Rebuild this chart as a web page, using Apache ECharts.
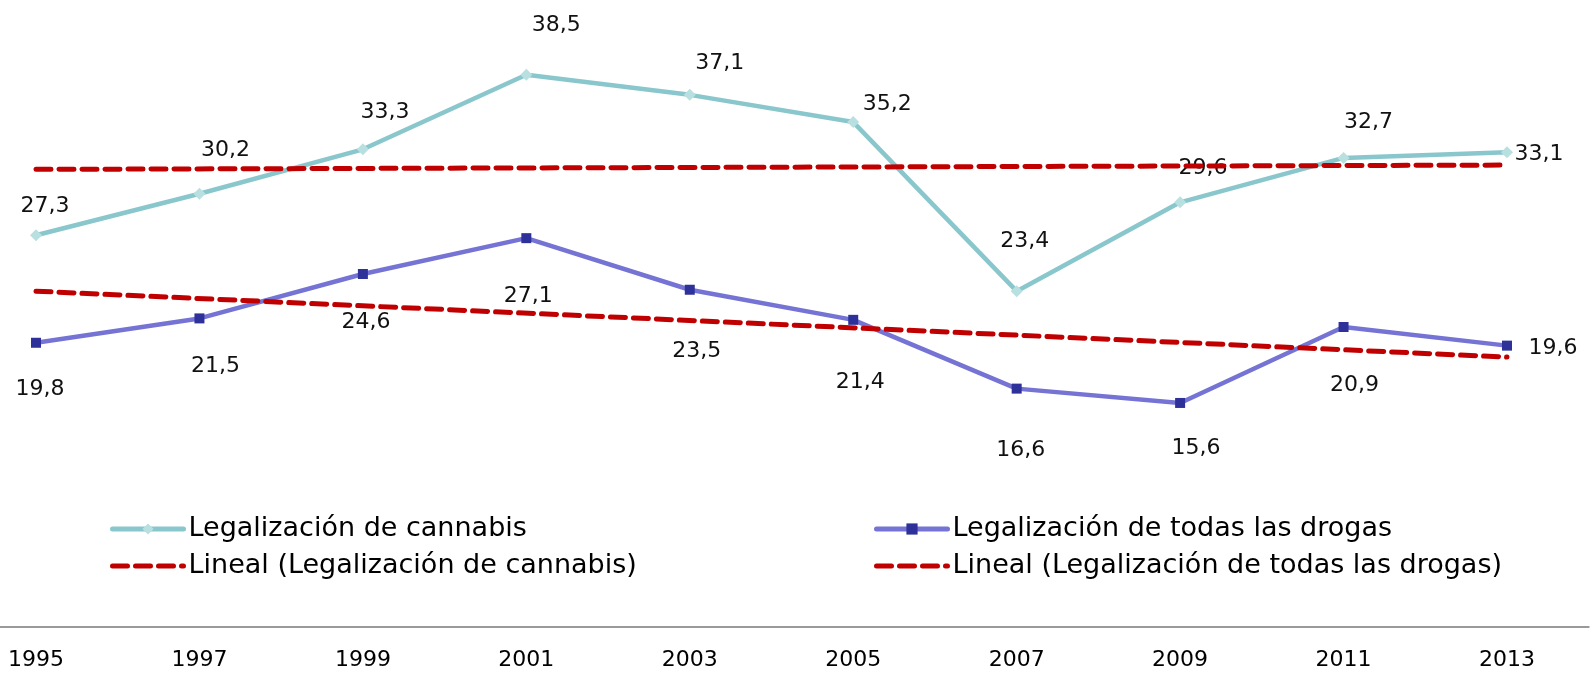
<!DOCTYPE html>
<html>
<head>
<meta charset="utf-8">
<script src="https://cdn.jsdelivr.net/npm/echarts@6/dist/echarts.min.js"></script>
<style>
  html, body { margin: 0; padding: 0; background: #ffffff; }
  #chart { width: 1592px; height: 674px; }
</style>
</head>
<body>
<div id="chart"></div>
<script>
// Survey years (category axis)
const years = ['1995', '1997', '1999', '2001', '2003', '2005', '2007', '2009', '2011', '2013'];

// Share in favour of legalization (%)
const cannabis = [27.3, 30.2, 33.3, 38.5, 37.1, 35.2, 23.4, 29.6, 32.7, 33.1];
const todasDrogas = [19.8, 21.5, 24.6, 27.1, 23.5, 21.4, 16.6, 15.6, 20.9, 19.6];

// Linear trend values at the first and last survey year
const trendCannabis = [31.9, 32.2];
const trendTodasDrogas = [23.4, 18.8];

const seriesNames = [
  'Legalización de cannabis',
  'Legalización de todas las drogas',
  'Lineal (Legalización de cannabis)',
  'Lineal (Legalización de todas las drogas)'
];

// Label placement relative to each point (px)
const cannabisLabelShift = [[9, -29], [26, -43], [22, -37], [30, -50], [30, -32], [34, -18], [8, -50], [23, -34], [25, -36], [32, 2]];
const todasLabelShift = [[4, 47], [16, 48], [3, 48], [2, 58], [7, 62], [7, 62], [4, 62], [16, 45], [11, 58], [46, 3]];

const FONT = 'DejaVu Sans';
const fmt = v => v.toFixed(1).replace('.', ',');

const COLORS = {
  cannabisLine: '#89c7cd',
  cannabisMark: '#b9e0e0',
  todasLine: '#7574d4',
  todasMark: '#2e3199',
  trend: '#c00000'
};
const DASH = [15, 8];

function labelled(values, shifts) {
  return values.map((v, i) => ({
    value: v,
    label: { offset: shifts[i] }
  }));
}

function trendData(ends) {
  return [[years[0], ends[0]], [years[years.length - 1], ends[1]]];
}

const chart = echarts.init(document.getElementById('chart'), null, { renderer: 'canvas' });

const legendText = { fontFamily: FONT, fontSize: 27, color: '#000000', lineHeight: 30 };

function legendItems(seriesIdx, trendIdx, lineColor) {
  return [
    { name: seriesNames[seriesIdx], lineStyle: { width: 5, color: lineColor, cap: 'round' } },
    {
      name: seriesNames[trendIdx],
      itemStyle: { opacity: 0 },
      lineStyle: { width: 5, color: COLORS.trend, type: DASH, cap: 'round' }
    }
  ];
}

const plotTop = 53.3, plotBottom = 47.5;

chart.setOption({
  animation: false,
  backgroundColor: '#ffffff',
  grid: [
    // plotting area: first and last year sit at the edges
    { left: 36, right: 85, top: plotTop, bottom: plotBottom },
    // full-width band used for the baseline rule
    { left: 0, right: 3.3, top: plotTop, bottom: plotBottom }
  ],
  legend: [
    {
      data: legendItems(0, 2, COLORS.cannabisLine),
      orient: 'vertical',
      left: 105, top: 509,
      itemWidth: 71, itemHeight: 14, itemGap: 7,
      textStyle: legendText
    },
    {
      data: legendItems(1, 3, COLORS.todasLine),
      orient: 'vertical',
      left: 869, top: 509,
      itemWidth: 71, itemHeight: 14, itemGap: 7,
      textStyle: legendText
    }
  ],
  xAxis: [
    {
      type: 'category',
      gridIndex: 0,
      data: years,
      boundaryGap: false,
      axisTick: { show: false },
      axisLine: { show: false },
      axisLabel: { fontFamily: FONT, fontSize: 22, color: '#000000', margin: 23 },
      splitLine: { show: false }
    },
    {
      type: 'category',
      gridIndex: 1,
      data: years,
      boundaryGap: true,
      axisTick: { show: false },
      axisLabel: { show: false },
      axisLine: { lineStyle: { color: '#9a9a9a', width: 2 } },
      splitLine: { show: false }
    }
  ],
  yAxis: [
    { type: 'value', gridIndex: 0, min: 0, max: 40, show: false, splitLine: { show: false } },
    { type: 'value', gridIndex: 1, min: 0, max: 40, show: false, splitLine: { show: false } }
  ],
  series: [
    {
      name: seriesNames[0],
      type: 'line',
      z: 2,
      data: labelled(cannabis, cannabisLabelShift),
      symbol: 'diamond',
      symbolSize: 12,
      lineStyle: { color: COLORS.cannabisLine, width: 4.5 },
      itemStyle: { color: COLORS.cannabisMark },
      label: {
        show: true, position: 'inside',
        fontFamily: FONT, fontSize: 22, color: '#111111',
        formatter: p => fmt(p.value)
      }
    },
    {
      name: seriesNames[1],
      type: 'line',
      z: 2,
      data: labelled(todasDrogas, todasLabelShift),
      symbol: 'rect',
      symbolSize: 10,
      lineStyle: { color: COLORS.todasLine, width: 4.5 },
      itemStyle: { color: COLORS.todasMark },
      label: {
        show: true, position: 'inside',
        fontFamily: FONT, fontSize: 22, color: '#111111',
        formatter: p => fmt(p.value)
      }
    },
    {
      name: seriesNames[2],
      type: 'line',
      z: 10,
      zlevel: 1,
      data: trendData(trendCannabis),
      showSymbol: false,
      lineStyle: { color: COLORS.trend, width: 5, type: DASH, cap: 'round' },
      itemStyle: { color: COLORS.trend }
    },
    {
      name: seriesNames[3],
      type: 'line',
      z: 10,
      zlevel: 1,
      data: trendData(trendTodasDrogas),
      showSymbol: false,
      lineStyle: { color: COLORS.trend, width: 5, type: DASH, cap: 'round' },
      itemStyle: { color: COLORS.trend }
    }
  ]
});
</script>
</body>
</html>
